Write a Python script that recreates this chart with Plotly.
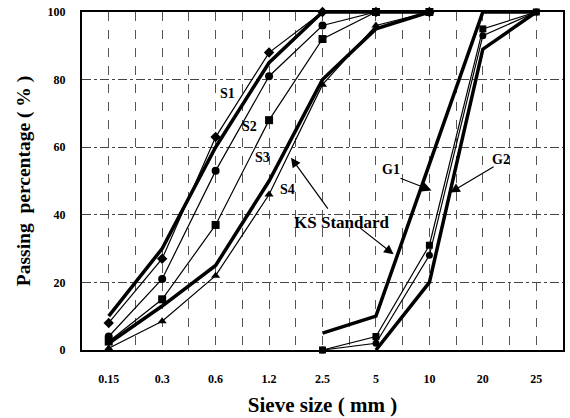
import plotly.graph_objects as go

sieve_labels = ["0.15", "0.3", "0.6", "1.2", "2.5", "5", "10", "20", "25"]
pos = list(range(len(sieve_labels)))

# Fine aggregates (0.15 ... 10 mm)
fine_idx = pos[:7]
S1 = [8, 27, 63, 88, 100, 100, 100]
S2 = [4, 21, 53, 81, 96, 100, 100]
S3 = [2.5, 15, 37, 68, 92, 100, 100]
S4 = [0.5, 8.5, 22, 46, 78.5, 96, 100]
KS_fine_upper = [10, 30, 60, 85, 100, 100, 100]
KS_fine_lower = [2, 13, 25, 50, 80, 95, 100]

# Coarse aggregates (2.5 ... 25 mm)
coarse_idx = pos[4:]
G1 = [0, 4, 31, 95, 100]
G2 = [0, 2, 28, 93, 100]
KS_coarse_upper = [5, 10, 55, 100, 100]
KS_coarse_lower = [None, 0, 20, 89, 100]

# grid lines at every tick and half-way between ticks
grid_vals = [i / 2 for i in range(0, 2 * len(sieve_labels) - 1)]
grid_text = [sieve_labels[int(v)] if v == int(v) else "" for v in grid_vals]

FONT = "Liberation Serif, Times New Roman, serif"
fig = go.Figure()

def thin(x, y, sym, size=8):
    fig.add_trace(go.Scatter(x=x, y=y, mode="lines+markers",
                             line=dict(color="black", width=1.2),
                             marker=dict(symbol=sym, size=size, color="black"),
                             showlegend=False, cliponaxis=False))

def thick(x, y):
    fig.add_trace(go.Scatter(x=x, y=y, mode="lines",
                             line=dict(color="black", width=3.5),
                             showlegend=False, connectgaps=False))

thick(fine_idx, KS_fine_upper)
thick(fine_idx, KS_fine_lower)
thick(coarse_idx, KS_coarse_upper)
thick(coarse_idx, KS_coarse_lower)
thin(fine_idx, S1, "diamond", 8)
thin(fine_idx, S2, "circle", 8)
thin(fine_idx, S3, "square", 8)
thin(fine_idx, S4, "triangle-up", 8)
thin(coarse_idx, G1, "square", 7)
thin(coarse_idx, G2, "circle", 7)

labels = [("S1", 2.22, 75.8), ("S2", 2.63, 66.2), ("S3", 2.87, 56.9),
          ("S4", 3.34, 47.5), ("KS Standard", 4.36, 37.6),
          ("G1", 5.29, 53.4), ("G2", 7.34, 56.3)]
for t, x, y in labels:
    fig.add_annotation(x=x, y=y, text="<b>%s</b>" % t, showarrow=False,
                       font=dict(family=FONT, size=17 if t == "KS Standard" else 14,
                                 color="black"))

arrows = [(3.41, 56.9, 4.12, 41.4), (5.33, 28.3, 4.68, 36.4),
          (6.04, 47.2, 5.43, 51.0), (6.39, 46.6, 7.23, 54.5)]
for hx, hy, tx, ty in arrows:
    fig.add_annotation(x=hx, y=hy, ax=tx, ay=ty, xref="x", yref="y",
                       axref="x", ayref="y", text="", showarrow=True,
                       arrowhead=2, arrowsize=1.6, arrowwidth=1.2,
                       arrowcolor="black", standoff=0, startstandoff=0)

fig.update_layout(
    width=570, height=418,
    margin=dict(l=82, r=5, t=12, b=63),
    paper_bgcolor="white", plot_bgcolor="white",
    font=dict(family=FONT, color="black"),
    xaxis=dict(range=[-0.5, 8.5], tickmode="array", tickvals=grid_vals,
               ticktext=grid_text, ticks="", ticklabelstandoff=17,
               tickfont=dict(family=FONT, size=12, weight="bold"),
               showline=True, linecolor="black", linewidth=2, mirror=True,
               showgrid=True, gridcolor="#555", gridwidth=1, griddash="dash",
               zeroline=False,
               title=dict(text="<b>Sieve size ( mm )</b>", standoff=12,
                          font=dict(family=FONT, size=21))),
    yaxis=dict(range=[0, 100], tickvals=[0, 20, 40, 60, 80, 100],
               ticks="", ticklabelstandoff=12,
               tickfont=dict(family=FONT, size=12, weight="bold"),
               showline=True, linecolor="black", linewidth=2, mirror=True,
               showgrid=True, gridcolor="#444", gridwidth=1,
               griddash="dashdot", zeroline=False,
               title=dict(text="<b>Passing  percentage ( % )</b>", standoff=12,
                          font=dict(family=FONT, size=19.5))),
)

fig.write_html("out.html")
